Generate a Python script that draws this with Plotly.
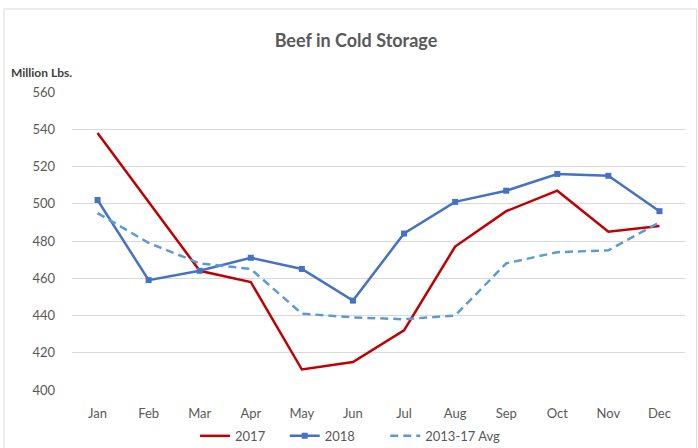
import plotly.graph_objects as go

months = ["Jan", "Feb", "Mar", "Apr", "May", "Jun", "Jul", "Aug", "Sep", "Oct", "Nov", "Dec"]
y2017 = [538, 501, 464, 458, 411, 415, 432, 477, 496, 507, 485, 488]
y2018 = [502, 459, 464, 471, 465, 448, 484, 501, 507, 516, 515, 496]
avg_13_17 = [495, 479, 468, 465, 441, 439, 438, 440, 468, 474, 475, 490]
yticks = [400, 420, 440, 460, 480, 500, 520, 540, 560]

font = "Lato, 'Open Sans', sans-serif"
gray = "#595959"

fig = go.Figure()
fig.add_trace(go.Scatter(x=months, y=y2017, name="2017", mode="lines", legend="legend",
                         line=dict(color="#C00000", width=2.5)))
fig.add_trace(go.Scatter(x=months, y=y2018, name="2018", mode="lines+markers", legend="legend2",
                         line=dict(color="#4472C4", width=2.5),
                         marker=dict(symbol="square", size=6, color="#4472C4")))
fig.add_trace(go.Scatter(x=months, y=avg_13_17, name="2013-17 Avg", mode="lines", legend="legend3",
                         line=dict(color="#5B9BD5", width=2.5, dash="8px,5px")))

leg = dict(orientation="h", xanchor="left", y=-0.154, yanchor="middle",
           font=dict(size=13, color=gray), bgcolor="rgba(0,0,0,0)")

fig.update_layout(
    width=698, height=448,
    margin=dict(l=72, r=13, t=92, b=58, autoexpand=False),
    paper_bgcolor="white", plot_bgcolor="white",
    font=dict(family=font, color=gray, size=13),
    title=dict(text="Beef in Cold Storage", x=0.51, xanchor="center",
               y=0.91, yanchor="middle", yref="container",
               font=dict(size=18, color=gray, family=font, weight="bold")),
    showlegend=True,
    legend=dict(leg, x=0.2007),
    legend2=dict(leg, x=0.347),
    legend3=dict(leg, x=0.511),
    xaxis=dict(range=[-0.5, 11.5], showgrid=False, showline=False, zeroline=False, ticks="",
               automargin=False, ticklabelstandoff=14, tickfont=dict(size=13, color=gray)),
    yaxis=dict(range=[400, 560], tickvals=yticks, showgrid=True, gridcolor="#D9D9D9",
               gridwidth=1, zeroline=False, showline=False, ticks="", automargin=False,
               ticklabelstandoff=16, tickfont=dict(size=13, color=gray)),
)

fig.add_annotation(text="<b>Million Lbs.</b>", xref="paper", yref="paper",
                   x=-0.103, y=1.067, xanchor="left", yanchor="middle",
                   showarrow=False, font=dict(size=12, color="#404040"))

fig.add_shape(type="rect", xref="paper", yref="paper",
              x0=-0.111, x1=1.019, y0=-0.3, y1=1.2785,
              line=dict(color="#D9D9D9", width=1), layer="below")

fig.write_html("out.html", config={"displayModeBar": False},
               post_script="document.body.style.margin='0';document.body.style.overflow='hidden';")
